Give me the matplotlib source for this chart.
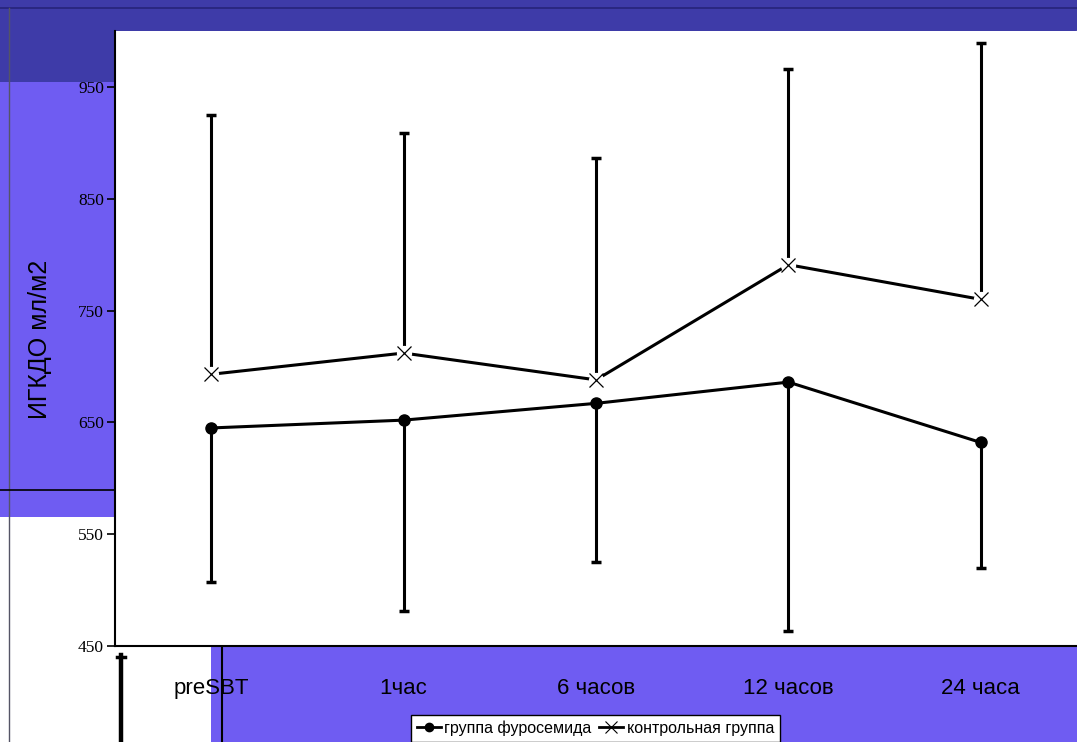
import matplotlib
matplotlib.use("Agg")
import matplotlib.pyplot as plt
from matplotlib.patches import Rectangle
from matplotlib.lines import Line2D
import numpy as np

# --- data ---------------------------------------------------------------
categories = ["preSBT", "1час", "6 часов", "12 часов", "24 часа"]
furo_mean = [645, 652, 667, 686, 632]
furo_sd = [138, 171, 142, 223, 112]
ctrl_mean = [693, 712, 688, 791, 760]
ctrl_sd = [232, 197, 198, 175, 229]
y_ticks = [450, 550, 650, 750, 850, 950]

W, H = 1077, 742
DARK = "#3E3BA8"
PURPLE = "#6F5CF2"

fig = plt.figure(figsize=(W / 100, H / 100), dpi=100)
fig.patch.set_facecolor("white")


def px_rect(x0, y0, x1, y1, **kw):
    """Rectangle given in pixel coords measured from the top-left corner."""
    r = Rectangle((x0 / W, 1 - y1 / H), (x1 - x0) / W, (y1 - y0) / H,
                  transform=fig.transFigure, zorder=-10, **kw)
    fig.patches.append(r)


def px_line(xs, ys, **kw):
    ln = Line2D([x / W for x in xs], [1 - y / H for y in ys],
                transform=fig.transFigure, zorder=-9, **kw)
    fig.lines.append(ln)


# slide background pieces
px_rect(0, 82, W, 517, facecolor=PURPLE, edgecolor="none")
px_rect(0, 0, W, 82, facecolor=DARK, edgecolor="none")
px_rect(211, 646, W, H, facecolor=PURPLE, edgecolor="none")
px_line([0, W], [7.5, 7.5], color="#26237A", lw=1.2)
px_line([8.5, 8.5], [7.5, H], color="#555566", lw=1.0)
px_line([0, 115], [490, 490], color="black", lw=1.2)
px_line([222, 222], [646, H], color="black", lw=1.5)
px_line([120.5, 120.5], [655, H], color="black", lw=3.2)
px_line([116.5, 124.5], [656.5, 656.5], color="black", lw=2.5)
px_line([W - 1, W - 1], [31, 500], color="#9A90D8", lw=1.0)

# --- chart --------------------------------------------------------------
ax = fig.add_axes([115 / W, 96 / H, (W - 115) / W, (646 - 31) / H])
ax.set_facecolor("white")
x = np.arange(len(categories))

lw = 2.2
# furosemide group: mean with lower SD bar
ax.vlines(x, np.array(furo_mean) - np.array(furo_sd), furo_mean,
          color="black", lw=lw, zorder=2)
ax.plot(x, np.array(furo_mean) - np.array(furo_sd), ls="none", marker="_",
        ms=7, mew=2.5, color="black", zorder=2)
ax.plot(x, furo_mean, color="black", lw=lw, marker="o", ms=8, zorder=3)

# control group: mean with upper SD bar
ax.vlines(x, ctrl_mean, np.array(ctrl_mean) + np.array(ctrl_sd),
          color="black", lw=lw, zorder=2)
ax.plot(x, np.array(ctrl_mean) + np.array(ctrl_sd), ls="none", marker="_",
        ms=7, mew=2.5, color="black", zorder=2)
ax.plot(x, ctrl_mean, color="black", lw=lw, zorder=2)
ax.plot(x, ctrl_mean, ls="none", marker="o", ms=11, mfc="white",
        mec="none", zorder=3)
ax.plot(x, ctrl_mean, ls="none", marker="x", ms=10, mew=0.9,
        color="black", zorder=4)

ax.set_xlim(-0.5, len(categories) - 0.5)
ax.set_ylim(450, 1000)
ax.set_yticks(y_ticks)
ax.set_yticklabels([str(v) for v in y_ticks], family="Liberation Serif",
                   fontsize=12.5)
ax.set_xticks(x)
ax.set_xticklabels(categories, family="Liberation Sans", fontsize=16)
ax.tick_params(axis="x", length=0, pad=23)
ax.tick_params(axis="y", direction="out", length=6, width=1.2, pad=2)

for side in ("top", "right"):
    ax.spines[side].set_visible(False)
for side in ("left", "bottom"):
    ax.spines[side].set_linewidth(1.5)

fig.text(40 / W, 1 - 339 / H, "ИГКДО мл/м2", rotation=90, ha="center",
         va="center", family="Liberation Sans", fontsize=18)

# legend
h1 = Line2D([], [], color="black", lw=2, marker="o", ms=6)
h2 = Line2D([], [], color="black", lw=2, marker="x", ms=8, mew=0.8)
leg = fig.legend([h1, h2], ["группа фуросемида", "контрольная группа"],
                 loc="upper center", bbox_to_anchor=(595.5 / W, 1 - 715 / H),
                 ncol=2, frameon=True, fancybox=False,
                 prop={"family": "Liberation Sans", "size": 11.5},
                 handlelength=1.5, handletextpad=0.2, columnspacing=0.5,
                 borderpad=0.35, borderaxespad=0, framealpha=1.0)
leg.get_frame().set_edgecolor("black")
leg.get_frame().set_facecolor("white")
leg.get_frame().set_linewidth(1.0)

fig.savefig("out.png", dpi=100, facecolor=fig.get_facecolor())
